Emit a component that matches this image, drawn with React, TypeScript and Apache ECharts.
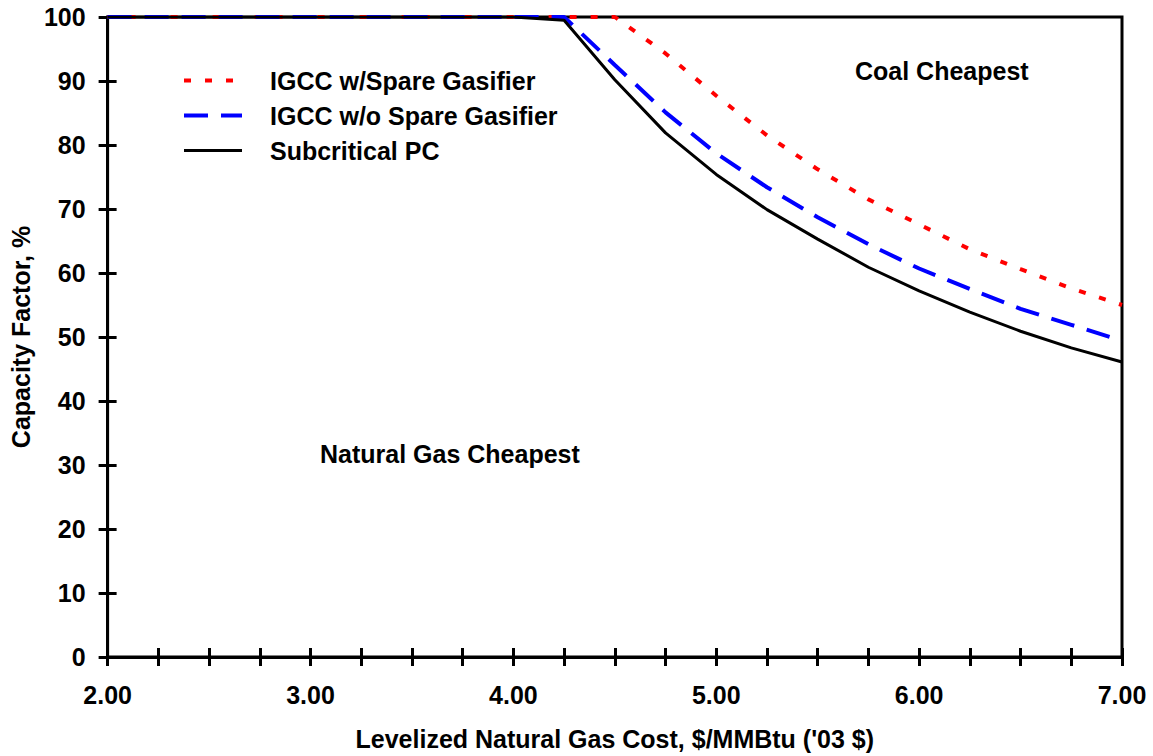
import React, { useEffect, useRef } from "react";
import * as echarts from "echarts";

const xValues: number[] = [2, 2.25, 2.5, 2.75, 3, 3.25, 3.5, 3.75, 4, 4.25, 4.5, 4.75, 5, 5.25, 5.5, 5.75, 6, 6.25, 6.5, 6.75, 7];

const igccSpare: number[] = [100, 100, 100, 100, 100, 100, 100, 100, 100, 100, 100, 94.3, 87.7, 81.5, 76.2, 71.5, 67.6, 63.7, 60.6, 57.6, 55.0];
const igccNoSpare: number[] = [100, 100, 100, 100, 100, 100, 100, 100, 100, 100, 92.5, 85.1, 78.7, 73.4, 68.7, 64.5, 60.7, 57.5, 54.4, 51.9, 49.4];
const subcriticalPC: number[] = [100, 100, 100, 100, 100, 100, 100, 100, 100, 99.5, 90.2, 81.9, 75.4, 69.9, 65.3, 60.9, 57.2, 53.9, 50.9, 48.3, 46.1];

const seriesNames: string[] = ["IGCC w/Spare Gasifier", "IGCC w/o Spare Gasifier", "Subcritical PC"];
const seriesColors: string[] = ["#ff0000", "#0000ff", "#000000"];
const xTitle = "Levelized Natural Gas Cost, $/MMBtu ('03 $)";
const yTitle = "Capacity Factor, %";
const regionLabels: string[] = ["Natural Gas Cheapest", "Coal Cheapest"];

const FONT = '"Liberation Sans", Arial, sans-serif';

export default function App() {
  const ref = useRef<HTMLDivElement>(null);
  useEffect(() => {
    if (!ref.current) return;
    const chart = echarts.init(ref.current, undefined, { renderer: "svg" });
    const pairs = (ys: number[]) => xValues.map((x, i) => [x, ys[i]]);
    const textBase = { fontFamily: FONT, fontWeight: "bold" as const, fontSize: 25, color: "#000" };
    const lineStyles = [
      { color: seriesColors[0], width: 4, type: [7, 14] },
      { color: seriesColors[1], width: 4, type: [24, 13] },
      { color: seriesColors[2], width: 3, type: "solid" },
    ];
    const xBase = {
      type: "value" as const,
      min: 2,
      max: 7,
      interval: 0.25,
      position: "bottom" as const,
      splitLine: { show: false },
    };
    const yBase = {
      type: "value" as const,
      min: 0,
      max: 100,
      interval: 10,
      position: "left" as const,
      splitLine: { show: false },
    };
    chart.setOption({
      animation: false,
      backgroundColor: "#fff",
      grid: {
        left: 107,
        right: 31,
        top: 17,
        bottom: 97,
        show: true,
        borderColor: "#000",
        borderWidth: 3,
        backgroundColor: "transparent",
      },
      legend: {
        orient: "vertical",
        left: 182,
        top: 68,
        padding: 0,
        itemWidth: 58,
        itemHeight: 14,
        itemGap: 10,
        data: seriesNames.map((name, i) => ({ name, lineStyle: lineStyles[i] })),
        itemStyle: { opacity: 0 },
        textStyle: { ...textBase, padding: [0, 0, 0, 23], lineHeight: 24 },
      },
      xAxis: [
        {
          ...xBase,
          name: xTitle,
          nameLocation: "middle",
          nameGap: 69,
          nameTextStyle: textBase,
          axisLine: { show: true, lineStyle: { color: "#000", width: 3 } },
          axisTick: { show: true, inside: false, length: 9, lineStyle: { color: "#000", width: 3 } },
          axisLabel: {
            ...textBase,
            margin: 25,
            showMinLabel: true,
            showMaxLabel: true,
            formatter: (v: number) => (Number.isInteger(v) ? v.toFixed(2) : ""),
          },
        },
        {
          ...xBase,
          axisLine: { show: false },
          axisTick: { show: true, inside: true, length: 9, lineStyle: { color: "#000", width: 3 } },
          axisLabel: { show: false },
        },
      ],
      yAxis: [
        {
          ...yBase,
          name: yTitle,
          nameLocation: "middle",
          nameGap: 72,
          nameTextStyle: textBase,
          axisLine: { show: true, lineStyle: { color: "#000", width: 3 } },
          axisTick: { show: true, inside: false, length: 9, lineStyle: { color: "#000", width: 3 } },
          axisLabel: { ...textBase, margin: 22 },
        },
        {
          ...yBase,
          axisLine: { show: false },
          axisTick: { show: true, inside: true, length: 9, lineStyle: { color: "#000", width: 3 } },
          axisLabel: { show: false },
        },
      ],
      series: [
        {
          name: seriesNames[0],
          type: "line",
          data: pairs(igccSpare),
          symbol: "none",
          lineStyle: lineStyles[0],
          itemStyle: { color: seriesColors[0] },
        },
        {
          name: seriesNames[1],
          type: "line",
          data: pairs(igccNoSpare),
          symbol: "none",
          lineStyle: lineStyles[1],
          itemStyle: { color: seriesColors[1] },
        },
        {
          name: seriesNames[2],
          type: "line",
          data: pairs(subcriticalPC),
          symbol: "none",
          lineStyle: lineStyles[2],
          itemStyle: { color: seriesColors[2] },
        },
      ],
      graphic: [
        {
          type: "text",
          left: 320,
          top: 441,
          style: { text: regionLabels[0], font: `bold 25px ${FONT}`, fill: "#000" },
        },
        {
          type: "text",
          left: 855,
          top: 58,
          style: { text: regionLabels[1], font: `bold 25px ${FONT}`, fill: "#000" },
        },
      ],
    });
    return () => chart.dispose();
  }, []);
  return <div ref={ref} style={{ position: "fixed", left: 0, top: 0, width: 1153, height: 756 }} />;
}
